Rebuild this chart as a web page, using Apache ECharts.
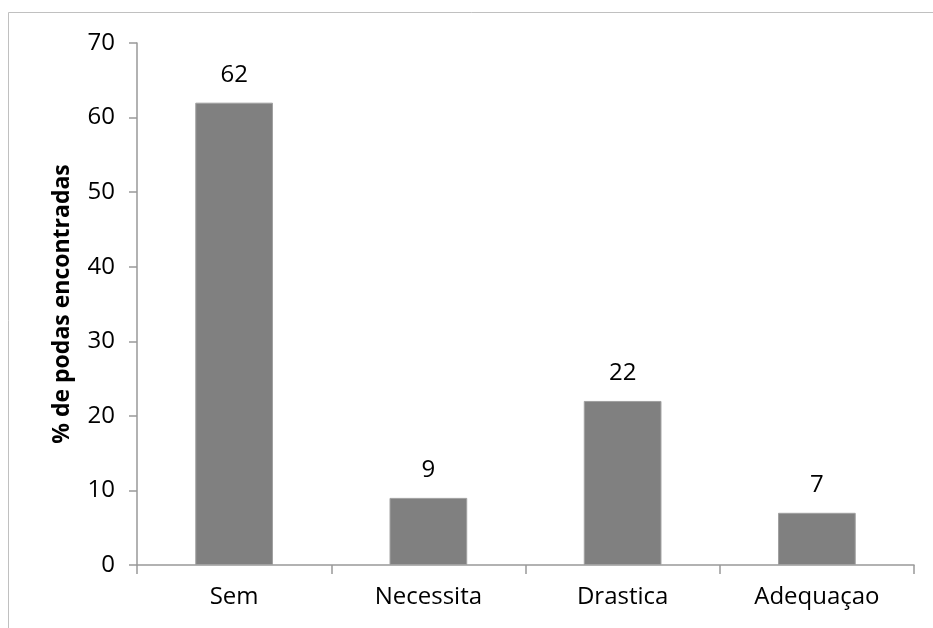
<!DOCTYPE html>
<html>
<head>
<meta charset="utf-8">
<script src="https://cdn.jsdelivr.net/npm/echarts@6/dist/echarts.min.js"></script>
<style>
html,body{margin:0;padding:0;background:#fff;}
#chart{width:933px;height:628px;}
</style>
</head>
<body>
<div id="chart"></div>
<script>
// Tipos de poda encontrados (%)
const categories = ['Sem', 'Necessita', 'Drastica', 'Adequaçao'];
const values = [62, 9, 22, 7];
const yTicks = { min: 0, max: 70, interval: 10 };
const yTitle = '% de podas encontradas';

const FONT = '"Open Sans", sans-serif';
const chart = echarts.init(document.getElementById('chart'), null, { renderer: 'canvas' });
chart.setOption({
  animation: false,
  backgroundColor: '#ffffff',
  graphic: [{
    type: 'rect',
    silent: true,
    shape: { x: 8.5, y: 12.5, width: 1000, height: 700 },
    style: { fill: 'none', stroke: '#c0c0c0', lineWidth: 1 }
  }],
  grid: { left: 137, top: 43, right: 19, bottom: 63, containLabel: false },
  xAxis: {
    type: 'category',
    data: categories,
    axisLine: { lineStyle: { color: '#999999', width: 1.5 } },
    axisTick: { show: true, length: 9, lineStyle: { color: '#999999', width: 1.5 } },
    axisLabel: { color: '#000000', fontFamily: FONT, fontSize: 24, margin: 20 }
  },
  yAxis: {
    type: 'value',
    min: yTicks.min, max: yTicks.max, interval: yTicks.interval,
    name: yTitle,
    nameLocation: 'middle',
    nameGap: 63,
    nameRotate: 90,
    nameTextStyle: { color: '#000000', fontFamily: FONT, fontSize: 23, fontWeight: 'bold' },
    axisLine: { show: true, lineStyle: { color: '#999999', width: 1.5 } },
    axisTick: { show: true, length: 8, lineStyle: { color: '#999999', width: 1.5 } },
    splitLine: { show: false },
    axisLabel: { color: '#000000', fontFamily: FONT, fontSize: 24, margin: 22 }
  },
  series: [{
    type: 'bar',
    data: values,
    barWidth: '40%',
    itemStyle: { color: '#808080', borderColor: '#a0a0a0', borderWidth: 1 },
    label: {
      show: true, position: 'top', distance: 16,
      color: '#000000', fontFamily: FONT, fontSize: 24
    }
  }]
});
</script>
</body>
</html>
